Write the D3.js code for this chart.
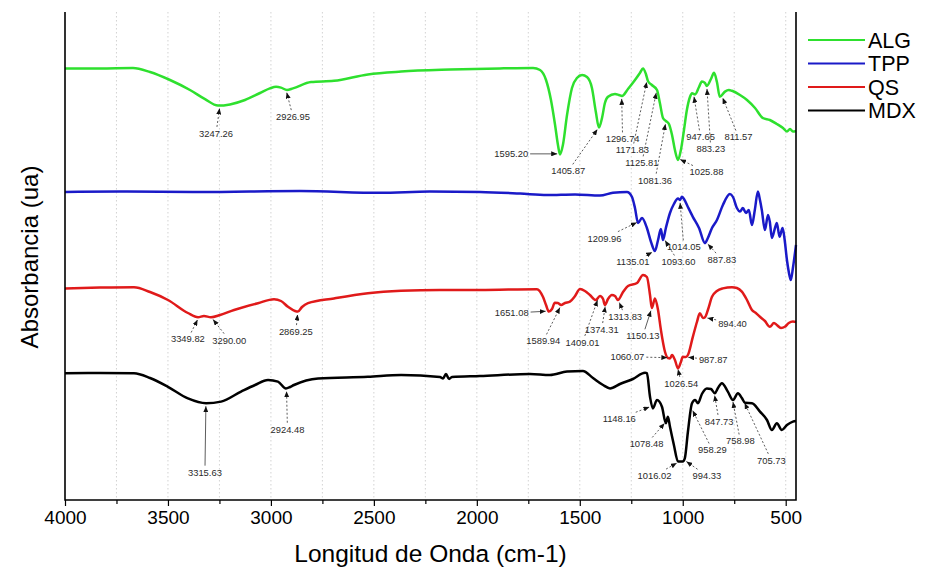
<!DOCTYPE html>
<html>
<head>
<meta charset="utf-8">
<script src="https://cdn.jsdelivr.net/npm/d3@7"></script>
<style>
  html, body { margin: 0; padding: 0; background: #fff; }
  svg { display: block; font-family: "Liberation Sans", Arial, sans-serif; }
</style>
</head>
<body>
<svg id="chart" width="929" height="568"></svg>
<script>
// FTIR spectra, stacked with vertical offsets (arbitrary absorbance units)
const seriesNames = ["ALG", "TPP", "QS", "MDX"];
const seriesColors = ["#2ee02e", "#1a1ac8", "#e01a1a", "#000000"];

// [wavenumber (cm-1), absorbance (ua)]
const algSpectrum = [
  [4000,107.9],[3830,107.9],[3670,108.0],[3587,107.0],[3490,105.0],[3393,102.5],[3320,100.2],
  [3257,98.6],[3199,98.9],[3126,100.0],[3053,101.75],[3005,102.9],[2975,103.3],[2951,103.1],
  [2922,102.5],[2893,102.9],[2805,104.5],[2694,104.8],[2529,106.4],[2368,107.1],[2130,107.6],
  [1888,107.9],[1727,108.0],[1693,107.5],[1664,105.0],[1640,100.0],[1620,93.75],[1606,88.75],
  [1596,86.4],[1582,88.75],[1562,96.25],[1538,103.0],[1514,105.5],[1489,106.25],[1465,105.75],
  [1441,103.0],[1422,97.0],[1407,93.1],[1392,95.5],[1378,99.25],[1363,100.8],[1329,101.5],
  [1310,101.25],[1295,101.0],[1266,102.75],[1232,105.0],[1208,106.75],[1193,107.9],[1179,106.5],
  [1169,104.75],[1150,103.75],[1125,102.5],[1111,99.25],[1096,95.5],[1082,94.75],[1067,94.0],
  [1052,91.25],[1038,87.5],[1023,85.0],[1009,87.5],[994,92.5],[980,97.5],[965,100.75],
  [955,101.7],[940,101.4],[921,103.25],[907,104.6],[892,104.25],[883,103.5],[863,105.25],
  [848,106.8],[834,104.5],[820,100.8],[795,102.1],[776,102.5],[761,102.3],[722,101.25],
  [688,100.0],[649,98.0],[611,95.5],[577,95.0],[543,94.0],[513,93.0],[494,92.1],[479,92.75],
  [465,92.1],[450,92.25]
];
const tppSpectrum = [
  [4000,77.0],[3733,77.1],[3344,77.0],[2859,77.25],[2470,76.8],[2228,77.1],[1985,77.0],
  [1790,76.6],[1659,76.25],[1523,76.4],[1402,76.1],[1339,76.8],[1271,77.0],[1247,75.8],
  [1232,73.0],[1217,69.25],[1198,70.5],[1174,68.0],[1154,64.5],[1135,62.25],[1120,65.0],
  [1106,67.75],[1096,65.0],[1082,68.0],[1062,71.75],[1043,74.0],[1023,75.4],[1013,75.0],
  [1004,75.8],[994,75.25],[975,73.25],[951,70.8],[921,68.0],[892,64.2],[878,65.5],[858,68.0],
  [834,70.0],[805,73.75],[771,76.5],[756,75.75],[737,73.0],[722,72.1],[708,73.0],[693,71.75],
  [679,72.5],[664,68.75],[650,72.5],[635,77.1],[625,75.0],[616,72.5],[601,67.5],[586,71.25],
  [577,69.5],[567,65.5],[552,68.0],[543,69.25],[530,65.8],[515,68.0],[505,65.0],[494,60.0],
  [485,57.0],[475,55.0],[465,58.0],[450,63.75]
];
const qsSpectrum = [
  [4000,52.9],[3830,53.1],[3665,53.2],[3587,52.0],[3500,50.0],[3403,46.75],[3354,45.7],
  [3325,46.0],[3291,45.7],[3247,46.25],[3179,47.5],[3063,49.2],[2985,50.2],[2951,49.75],
  [2917,48.3],[2883,47.25],[2869,47.1],[2849,48.25],[2820,49.2],[2694,50.4],[2529,51.7],
  [2368,52.3],[2179,52.5],[1985,52.5],[1708,52.7],[1679,50.8],[1664,48.75],[1650,47.1],
  [1635,47.75],[1621,49.3],[1606,49.25],[1591,48.75],[1572,49.25],[1548,49.6],[1523,51.0],
  [1499,52.75],[1475,52.25],[1451,51.25],[1422,50.0],[1402,51.0],[1387,50.25],[1378,48.75],
  [1363,50.25],[1344,51.25],[1329,51.0],[1315,50.0],[1290,52.0],[1266,53.5],[1222,54.25],
  [1193,56.25],[1174,55.75],[1159,51.25],[1150,48.0],[1135,50.4],[1120,47.5],[1106,42.5],
  [1086,37.0],[1072,35.5],[1062,35.4],[1052,36.25],[1038,35.0],[1023,32.9],[1009,34.5],
  [1000,35.8],[985,35.75],[975,36.25],[951,40.8],[931,44.5],[917,46.7],[902,45.5],[892,45.7],
  [878,47.5],[858,50.8],[834,52.25],[805,52.9],[761,53.2],[737,53.0],[713,52.1],[688,50.0],
  [664,47.5],[645,46.75],[625,45.8],[601,44.75],[577,43.3],[557,44.25],[543,43.75],[523,43.0],
  [504,43.3],[485,44.25],[465,44.6],[450,44.5]
];
const mdxSpectrum = [
  [4000,31.7],[3830,31.75],[3665,31.7],[3587,30.5],[3500,28.3],[3403,25.4],[3315,24.2],
  [3242,24.6],[3145,27.1],[3077,28.75],[3014,30.0],[2966,29.6],[2927,27.9],[2907,28.25],
  [2888,28.75],[2771,30.4],[2529,30.8],[2368,31.25],[2179,30.75],[2164,30.4],[2150,31.5],
  [2135,30.25],[2121,30.75],[1985,31.0],[1742,31.5],[1645,31.25],[1562,32.1],[1485,32.25],
  [1436,30.5],[1387,28.75],[1353,27.9],[1305,29.0],[1242,30.25],[1183,31.8],[1174,31.7],
  [1159,25.8],[1145,22.9],[1125,25.0],[1101,23.3],[1082,19.2],[1072,20.8],[1062,18.3],
  [1043,13.75],[1023,9.6],[1000,9.6],[990,10.4],[975,17.0],[955,24.2],[940,25.0],[926,24.2],
  [907,26.5],[883,27.9],[863,27.75],[844,26.7],[829,28.0],[810,29.2],[781,27.1],[756,25.0],
  [732,26.7],[713,25.5],[698,24.3],[664,24.2],[625,22.1],[591,20.0],[567,17.5],[543,19.2],
  [519,17.5],[494,18.75],[465,19.6],[450,19.75]
];

// Labelled band positions (cm-1) for each spectrum
const algPeaks = [3247.26, 2926.95, 1595.20, 1405.87, 1296.74, 1171.83, 1125.81, 1081.36, 1025.88, 947.65, 883.23, 811.57];
const tppPeaks = [1209.96, 1135.01, 1093.60, 1014.05, 887.83];
const qsPeaks = [3349.82, 3290.00, 2869.25, 1651.08, 1589.94, 1409.01, 1374.31, 1313.83, 1150.13, 1060.07, 1026.54, 987.87, 894.40];
const mdxPeaks = [3315.63, 2924.48, 1148.16, 1078.48, 1016.02, 994.33, 958.29, 847.73, 758.98, 705.73];

const xTickValues = [4000, 3500, 3000, 2500, 2000, 1500, 1000, 500];
const xMinorTickValues = [3750, 3250, 2750, 2250, 1750, 1250, 750];
const xAxisTitle = "Longitud de Onda (cm-1)";
const yAxisTitle = "Absorbancia (ua)";

// Layout: placement of each band label relative to its point on the curve (px)
const labelOffsets = {
  "3247.26": [-4, 28], "2926.95": [7, 27], "1595.20": [-49, 0], "1405.87": [-31, 44],
  "1296.74": [1, 43], "1171.83": [-15, 71], "1125.81": [-15, 73], "1081.36": [-11, 59],
  "1025.88": [29, 14], "947.65": [7, 43], "883.23": [4, 63], "811.57": [17, 42],
  "1209.96": [-35, 17], "1135.01": [-22, 11], "1093.60": [15, 24], "1014.05": [4, 47], "887.83": [16, 18],
  "3349.82": [-11, 22], "3290.00": [18, 23], "2869.25": [-2, 20], "1651.08": [-37, 2],
  "1589.94": [-18, 36], "1409.01": [-16, 45], "1374.31": [-4, 26], "1313.83": [7, 17],
  "1150.13": [-9, 28], "1060.07": [-43, -1], "1026.54": [4, 17], "987.87": [28, 3], "894.40": [28, 6],
  "3315.63": [-1, 69], "2924.48": [1, 41], "1148.16": [-33, 13], "1078.48": [-20, 23],
  "1016.02": [-25, 14], "994.33": [23, 16], "958.29": [21, 42], "847.73": [5, 29],
  "758.98": [8, 42], "705.73": [28, 60]
};
const solidLeaders = new Set(["1595.20", "1651.08", "1150.13", "3315.63"]);

const spectra = [algSpectrum, tppSpectrum, qsSpectrum, mdxSpectrum];
const peaks = [algPeaks, tppPeaks, qsPeaks, mdxPeaks];

const svg = d3.select("#chart");
const plot = { left: 65, right: 796, top: 12, bottom: 500 };

const x = d3.scaleLinear().domain([4000, 450]).range([plot.left, plot.right]);
const y = d3.scaleLinear().domain([0, 122]).range([plot.bottom, plot.top]);

// dotted vertical grid
const gridValues = d3.range(3750, 499, -250);
svg.append("g").selectAll("line").data(gridValues).join("line")
  .attr("x1", d => x(d)).attr("x2", d => x(d))
  .attr("y1", plot.top).attr("y2", plot.bottom)
  .attr("stroke", "#c8c8c8").attr("stroke-width", 0.8)
  .attr("stroke-dasharray", "1.5,2.5");

// spectra
const line = d3.line().x(d => x(d[0])).y(d => y(d[1])).curve(d3.curveMonotoneX);
svg.append("g").selectAll("path").data(spectra).join("path")
  .attr("d", line)
  .attr("fill", "none")
  .attr("stroke", (d, i) => seriesColors[i])
  .attr("stroke-width", 2.5)
  .attr("stroke-linejoin", "round");

// axes
const xAxis = d3.axisBottom(x).tickValues(xTickValues).tickSize(6).tickPadding(5).tickFormat(d3.format("d"));
const gx = svg.append("g").attr("transform", `translate(0,${plot.bottom})`).call(xAxis);
gx.select(".domain").remove();
gx.selectAll(".tick line").attr("stroke", "#000").attr("stroke-width", 1.2);
gx.selectAll(".tick text").attr("font-size", 19).attr("fill", "#000")
  .attr("font-family", "'Liberation Sans', Arial, sans-serif");
const gxMinor = svg.append("g").attr("transform", `translate(0,${plot.bottom})`)
  .call(d3.axisBottom(x).tickValues(xMinorTickValues).tickSize(4).tickFormat(""));
gxMinor.select(".domain").remove();
gxMinor.selectAll(".tick line").attr("stroke", "#000").attr("stroke-width", 1.2);

const frame = svg.append("g").attr("stroke", "#000").attr("stroke-width", 1.6).attr("fill", "none");
frame.append("path").attr("d", `M${plot.left},${plot.top}V${plot.bottom}H${plot.right}V${plot.top}`);

svg.append("text")
  .attr("x", (plot.left + plot.right) / 2).attr("y", 562)
  .attr("text-anchor", "middle").attr("font-size", 24.5).attr("fill", "#000")
  .text(xAxisTitle);
svg.append("text")
  .attr("transform", `translate(38,${(plot.top + plot.bottom) / 2 + 1}) rotate(-90)`)
  .attr("text-anchor", "middle").attr("font-size", 24).attr("fill", "#000")
  .text(yAxisTitle);

// legend
const legend = svg.append("g");
seriesNames.forEach((name, i) => {
  const ly = 40 + i * 23.5;
  legend.append("line").attr("x1", 808).attr("x2", 865).attr("y1", ly).attr("y2", ly)
    .attr("stroke", seriesColors[i]).attr("stroke-width", 2);
  legend.append("text").attr("x", 868).attr("y", ly + 7.8)
    .attr("font-size", 21.5).attr("fill", "#000").text(name);
});

// band labels with leader arrows
svg.append("defs").append("marker")
  .attr("id", "head").attr("viewBox", "0 0 6 5")
  .attr("refX", 6).attr("refY", 2.5)
  .attr("markerWidth", 6).attr("markerHeight", 5)
  .attr("markerUnits", "userSpaceOnUse").attr("orient", "auto")
  .append("path").attr("d", "M0,0L6,2.5L0,5Z").attr("fill", "#111");

function valueAt(spec, wn) {
  for (let i = 0; i < spec.length - 1; i++) {
    const a = spec[i], b = spec[i + 1];
    if (wn <= a[0] && wn >= b[0]) {
      const t = (a[0] - wn) / (a[0] - b[0]);
      return a[1] + t * (b[1] - a[1]);
    }
  }
  return spec[spec.length - 1][1];
}

const notes = svg.append("g");
peaks.forEach((list, si) => {
  list.forEach(wn => {
    const key = wn.toFixed(2);
    const px = x(wn), py = y(valueAt(spectra[si], wn));
    const [dx, dy] = labelOffsets[key];
    const lx = px + dx, ly = py + dy;
    const txt = notes.append("text")
      .attr("x", lx).attr("y", ly + 3.4)
      .attr("text-anchor", "middle").attr("font-size", 9.4).attr("fill", "#2a2a2a")
      .text(key);
    const w = txt.node().getComputedTextLength();
    const vx = px - lx, vy = py - ly;
    const len = Math.hypot(vx, vy);
    const hw = w / 2 + 2, hh = 6.5;
    const t0 = Math.min(vx !== 0 ? hw / Math.abs(vx) : Infinity, vy !== 0 ? hh / Math.abs(vy) : Infinity);
    const tailX = lx + vx * t0, tailY = ly + vy * t0;
    const tipX = px - vx / len * 3, tipY = py - vy / len * 3;
    notes.append("line")
      .attr("x1", tailX).attr("y1", tailY).attr("x2", tipX).attr("y2", tipY)
      .attr("stroke", "#333").attr("stroke-width", 0.8)
      .attr("stroke-dasharray", solidLeaders.has(key) ? null : "2,2")
      .attr("marker-end", "url(#head)");
  });
});
</script>
</body>
</html>
